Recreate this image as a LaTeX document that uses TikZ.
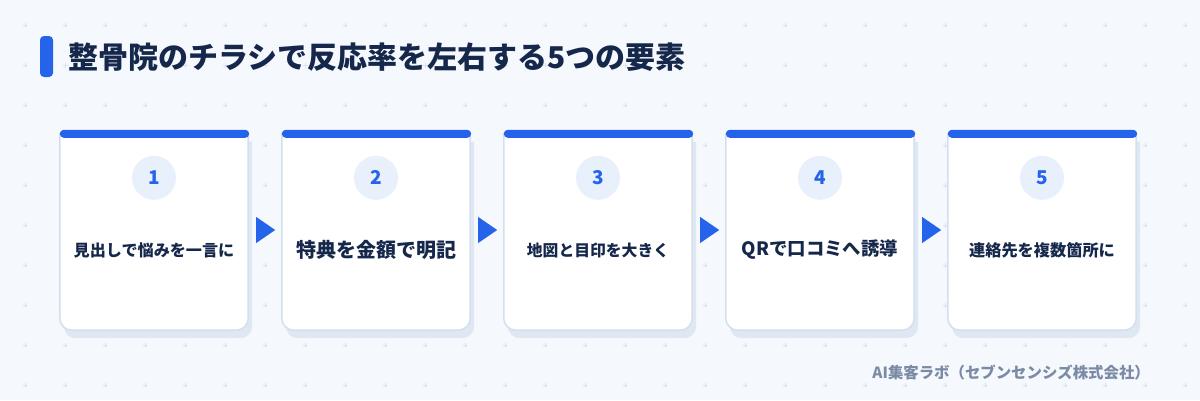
\documentclass[tikz,border=0pt]{standalone}
\usepackage{fontspec}
\setmainfont{Noto Sans CJK JP}
\usetikzlibrary{calc}
\definecolor{bg}{HTML}{F5F8FC}
\definecolor{dotc}{HTML}{DCE3EE}
\definecolor{brand}{HTML}{2563EB}
\definecolor{navy}{HTML}{15284B}
\definecolor{cardline}{HTML}{D3DFEE}
\definecolor{shadowc}{HTML}{DFE7F2}
\definecolor{circfill}{HTML}{E8F0FC}
\definecolor{foot}{HTML}{7B8BA6}
\begin{document}
\begin{tikzpicture}[x=1pt,y=-1pt,
  cardbox/.style={minimum width=188pt,minimum height=196pt,inner sep=0pt,draw=none},
  numcirc/.style={circle,fill=circfill,minimum size=44pt,inner sep=0pt,text=brand,font=\bfseries\fontsize{19}{21}\selectfont},
  lbl/.style={text=navy,inner sep=0pt},
  dotmark/.style={draw=dotc,line width=0.9pt},
  tri/.style={fill=brand}]
\fill[bg] (0,0) rectangle (1200,400);
\useasboundingbox (0,0) rectangle (1200,400);
% dot grid
\foreach \i in {0,...,29}{
  \foreach \j in {0,...,9}{
    \draw[dotmark] ({25+40*\i-2.5},{25+40*\j}) -- ++(5,0);
    \draw[dotmark] ({25+40*\i},{25+40*\j-2.5}) -- ++(0,5);
  }
}
% title
\fill[brand,rounded corners=4pt] (40,36) rectangle (53,77);
\node[anchor=west,text=navy,inner sep=0pt,font=\bfseries\fontsize{30}{34}\selectfont] (title) at (68,57) {整骨院のチラシで反応率を左右する5つの要素};
% cards
\foreach \k/\txt/\sz in {1/見出しで悩みを一言に/16.1, 2/特典を金額で明記/20, 3/地図と目印を大きく/15.8, 4/QRで口コミへ誘導/18.4, 5/連絡先を複数箇所に/16.2}{
  \node[cardbox] (card\k) at ({154+222*(\k-1)},232) {};
  \path[fill=shadowc] ($(card\k.north west)+(4,8)$) -- ($(card\k.south west)+(4,-4)$)
     arc[start angle=180,end angle=90,radius=12] -- ($(card\k.south east)+(-8,8)$)
     arc[start angle=90,end angle=0,radius=12] -- ($(card\k.north east)+(4,8)$) -- cycle;
  \path[fill=white,draw=cardline,line width=1.5pt] (card\k.north west) -- ($(card\k.south west)+(0,-12)$)
     arc[start angle=180,end angle=90,radius=12] -- ($(card\k.south east)+(-12,0)$)
     arc[start angle=90,end angle=0,radius=12] -- (card\k.north east) -- cycle;
  \fill[brand,rounded corners=4pt] ($(card\k.north west)+(0,-4)$) rectangle ($(card\k.north east)+(1,4)$);
  \node[numcirc] (num\k) at ($(card\k.north)+(0,44)$) {\k};
  \node[lbl,font=\bfseries\fontsize{\sz}{\sz}\selectfont] (lbl\k) at ($(card\k.center)+(0,18)$) {\txt};
}
% arrows between cards
\foreach \k in {1,...,4}{
  \fill[tri] ($(card\k.east)+(8,-15)$) -- ($(card\k.east)+(27,-2)$) -- ($(card\k.east)+(8,11)$) -- cycle;
}
% footer
\node[anchor=east,text=foot,inner sep=0pt,font=\bfseries\fontsize{15.4}{17}\selectfont] (footer) at (1150,373) {AI集客ラボ（セブンセンシズ株式会社）};
\end{tikzpicture}
\end{document}
